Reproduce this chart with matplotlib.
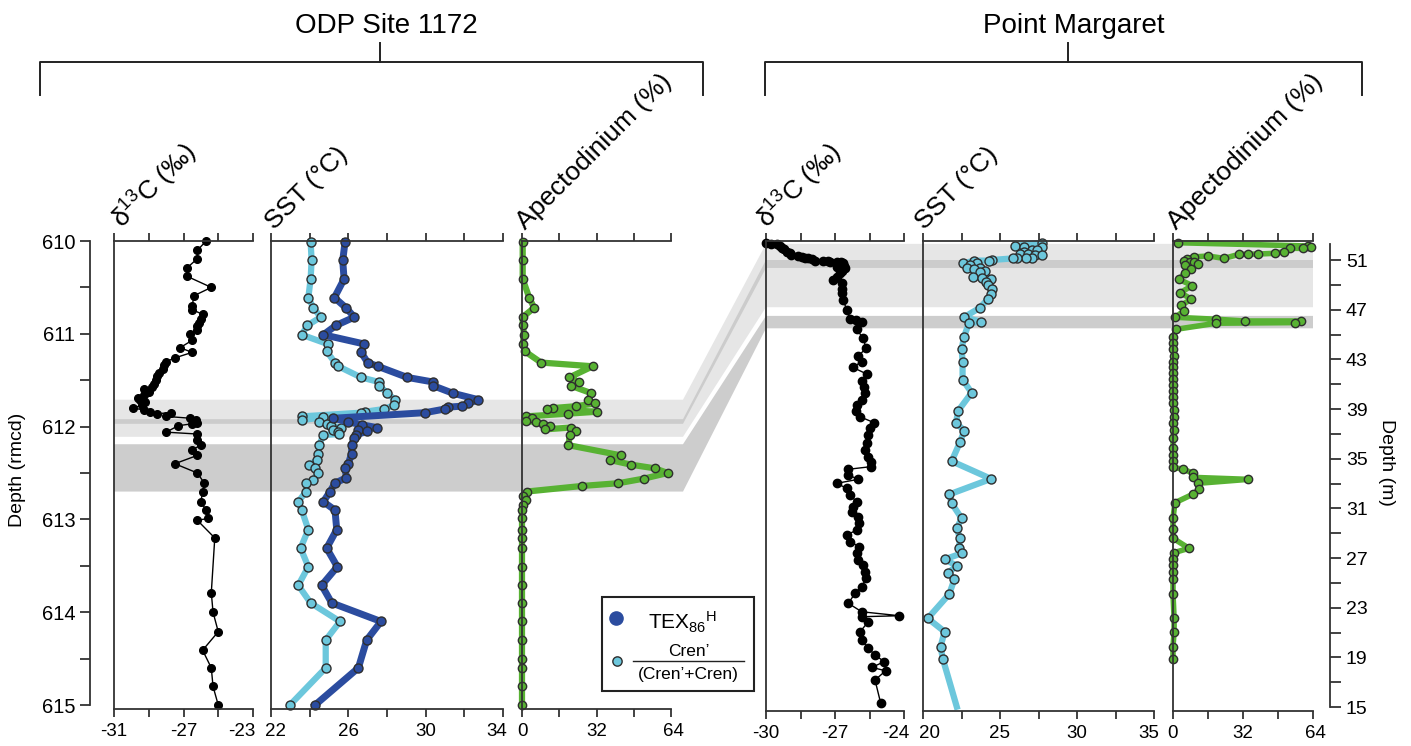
import numpy as np
import matplotlib.pyplot as plt
import matplotlib.transforms as mtransforms
from matplotlib.patches import Polygon, Rectangle

plt.rcParams['font.family'] = ['Liberation Sans', 'DejaVu Sans']
plt.rcParams['mathtext.fontset'] = 'custom'
plt.rcParams['mathtext.rm'] = 'Liberation Sans'
plt.rcParams['mathtext.it'] = 'Liberation Sans:italic'
plt.rcParams['mathtext.bf'] = 'Liberation Sans:bold'

# ---------------- ODP Site 1172 (depth in rmcd) ----------------
odp_d13c_depth = [610.00, 610.10, 610.19, 610.29, 610.38, 610.50, 610.59, 610.70, 610.74, 610.79,
                  610.84, 610.88, 610.92, 610.96, 611.00, 611.07, 611.15, 611.20, 611.26, 611.30,
                  611.34, 611.38, 611.42, 611.46, 611.50, 611.54, 611.57, 611.60, 611.63, 611.66,
                  611.69, 611.71, 611.74, 611.77, 611.80, 611.82, 611.84, 611.86, 611.85, 611.89,
                  611.91, 611.93, 611.96, 611.97, 611.99, 612.06, 612.08, 612.14, 612.20, 612.25,
                  612.31, 612.40, 612.50, 612.61, 612.70, 612.81, 612.90, 612.99, 613.01, 613.20,
                  613.79, 614.00, 614.21, 614.41, 614.60, 614.80, 615.00]
odp_d13c = [-25.7, -26.2, -26.2, -26.8, -26.8, -25.4, -26.4, -26.5, -26.5, -25.9,
            -26.0, -26.1, -26.2, -26.2, -26.6, -26.5, -27.2, -26.5, -27.5, -28.0,
            -28.1, -28.2, -28.4, -28.5, -28.6, -28.7, -28.8, -29.3, -29.0, -29.3,
            -29.6, -29.5, -29.2, -29.4, -29.9, -29.3, -28.9, -28.5, -27.7, -28.0,
            -26.6, -26.3, -26.2, -26.5, -27.3, -28.0, -26.2, -26.2, -26.0, -26.5,
            -26.2, -27.5, -26.2, -25.8, -25.9, -26.0, -25.7, -25.6, -26.2, -25.2,
            -25.4, -25.3, -25.0, -25.9, -25.4, -25.3, -25.0]

odp_tex_depth = [610.01, 610.21, 610.41, 610.61, 610.72, 610.82, 610.91, 611.01, 611.11, 611.20,
                 611.31, 611.35, 611.47, 611.52, 611.56, 611.64, 611.71, 611.75, 611.78, 611.79,
                 611.81, 611.85, 611.91, 611.95, 611.98, 612.01, 612.04, 612.05, 612.09, 612.12,
                 612.20, 612.29, 612.40, 612.45, 612.55, 612.61, 612.70, 612.81, 612.90, 613.11,
                 613.31, 613.51, 613.71, 613.90, 614.10, 614.30, 614.60, 615.00]
odp_tex = [25.83, 25.71, 25.78, 25.28, 25.88, 26.31, 25.36, 24.71, 26.83, 26.66,
           27.00, 27.52, 29.05, 30.40, 30.40, 31.40, 32.73, 32.21, 31.86, 31.17,
           31.00, 29.97, 25.22, 26.00, 26.69, 27.47, 26.50, 26.95, 26.40, 26.30,
           26.17, 26.17, 26.00, 25.83, 25.90, 25.31, 25.05, 24.71, 25.31, 25.40,
           24.88, 25.43, 24.62, 25.14, 27.69, 26.95, 26.52, 24.28]

odp_cren_depth = [610.01, 610.21, 610.41, 610.61, 610.72, 610.82, 610.91, 611.01, 611.11, 611.19,
                  611.31, 611.35, 611.47, 611.52, 611.56, 611.64, 611.71, 611.77, 611.81, 611.84,
                  611.85, 611.89, 611.93, 611.90, 611.95, 611.97, 611.99, 612.01, 612.04, 612.06,
                  612.08, 612.09, 612.20, 612.29, 612.36, 612.41, 612.45, 612.50, 612.57, 612.61,
                  612.70, 612.81, 612.90, 613.11, 613.31, 613.51, 613.71, 613.90, 614.10, 614.30,
                  614.60, 615.00]
odp_cren = [24.05, 24.10, 24.05, 23.93, 24.19, 24.57, 23.88, 23.59, 24.93, 24.88,
            25.31, 25.48, 26.66, 27.60, 27.60, 28.02, 28.41, 28.36, 27.85, 26.86,
            26.66, 23.60, 23.60, 24.67, 24.50, 24.90, 25.10, 25.60, 25.20, 25.45,
            25.50, 24.70, 24.50, 24.45, 24.40, 23.98, 24.30, 24.45, 24.19, 23.81,
            23.81, 23.41, 23.59, 23.93, 23.53, 23.93, 23.41, 24.05, 25.57, 24.83,
            24.83, 22.98]

odp_apec_depth = [610.01, 610.21, 610.41, 610.61, 610.72, 610.82, 610.90, 611.01, 611.11, 611.19,
                  611.31, 611.35, 611.47, 611.52, 611.56, 611.64, 611.71, 611.75, 611.78, 611.80,
                  611.81, 611.84, 611.86, 611.89, 611.91, 611.94, 611.95, 611.97, 611.99, 612.03,
                  612.01, 612.05, 612.09, 612.20, 612.31, 612.36, 612.41, 612.45, 612.50, 612.56,
                  612.61, 612.64, 612.70, 612.75, 612.79, 612.84, 612.90, 612.99, 613.11, 613.20,
                  613.31, 613.51, 613.71, 613.90, 614.10, 614.30, 614.50, 614.60, 614.80, 615.00]
odp_apec = [0.3, 0.3, 0.3, 3.1, 5.2, 0.3, 0.3, 0.9, 0.3, 1.3,
            8.2, 30.4, 20.3, 24.5, 21.0, 29.8, 28.4, 31.5, 23.2, 13.5,
            10.6, 32.1, 19.9, 1.7, 4.4, 1.7, 5.9, 9.0, 11.9, 9.7,
            21.0, 23.4, 20.6, 19.9, 42.5, 37.8, 46.8, 57.1, 62.6, 52.4,
            41.4, 25.6, 2.0, 0.3, 1.7, 0.6, 0.0, 0.0, 0.0, 0.0,
            0.0, 0.0, 0.0, 0.0, 0.0, 0.0, 0.0, 0.0, 0.0, 0.0]

# ---------------- Point Margaret (depth in m) ----------------
pm_d13c_depth = [52.34, 52.30, 52.25, 52.13, 52.00, 51.85, 51.67, 51.55, 51.40, 51.30,
                 51.22, 51.17, 51.13, 51.05, 50.95, 50.95, 50.90, 50.87, 50.87, 50.80,
                 50.73, 50.55, 50.40, 50.33, 50.15, 49.93, 49.65, 49.39, 49.12, 48.70,
                 48.32, 47.78, 46.97, 46.23, 46.20, 46.03, 45.42, 44.69, 43.89, 43.27,
                 42.81, 42.36, 41.82, 41.28, 40.75, 40.27, 39.73, 39.33, 38.87, 38.38,
                 37.90, 37.45, 36.91, 36.24, 35.70, 35.16, 34.76, 34.36, 34.15, 33.70,
                 33.34, 33.02, 32.62, 32.08, 31.54, 31.10, 30.74, 30.33, 29.80, 29.26,
                 28.86, 28.32, 27.92, 27.38, 26.85, 26.44, 25.91, 25.37, 24.70, 24.16,
                 23.36, 22.68, 22.36, 22.28, 21.88, 21.07, 20.40, 19.73, 19.20, 18.66,
                 18.20, 17.93, 17.18, 15.30]
pm_d13c = [-30.0, -29.8, -29.5, -29.4, -29.3, -29.2, -29.1, -28.95, -28.9, -28.6,
           -28.45, -28.3, -28.16, -28.0, -27.87, -27.51, -27.3, -27.22, -26.93, -26.75,
           -26.64, -26.6, -26.93, -26.57, -26.7, -26.78, -26.9, -27.07, -26.71, -26.7,
           -26.71, -26.64, -26.49, -26.35, -26.10, -25.84, -26.06, -25.77, -25.65, -25.99,
           -25.84, -26.23, -25.62, -25.84, -25.75, -25.70, -25.84, -26.06, -26.09, -25.91,
           -25.30, -25.48, -25.55, -25.62, -25.70, -25.55, -25.45, -25.45, -26.42, -26.42,
           -25.99, -26.93, -26.49, -26.35, -26.06, -26.2, -26.28, -25.99, -25.94, -26.06,
           -26.49, -26.35, -25.94, -26.06, -25.99, -25.77, -25.70, -25.65, -25.84, -26.13,
           -26.42, -25.84, -24.20, -25.84, -25.55, -25.91, -25.84, -25.55, -25.26, -24.86,
           -25.40, -24.80, -25.26, -25.01]

pm_cren_depth = [52.39, 52.13, 52.07, 52.02, 51.81, 51.78, 51.62, 51.50, 51.50, 51.43,
                 51.43, 51.20, 51.20, 51.13, 51.13, 51.00, 50.95, 50.95, 50.73, 50.73,
                 50.60, 50.33, 50.33, 50.25, 50.14, 50.06, 49.66, 49.53, 49.45, 49.26,
                 48.99, 48.65, 48.27, 47.84, 47.16, 46.39, 46.03, 45.91, 44.80, 43.85,
                 42.81, 41.36, 40.32, 38.87, 37.90, 37.26, 36.32, 34.80, 33.38, 32.13,
                 31.41, 30.20, 29.40, 28.59, 27.79, 27.38, 26.90, 26.39, 25.83, 25.32,
                 24.11, 22.15, 21.08, 19.87, 18.88, 15.04]
pm_cren = [27.71, 25.97, 27.73, 26.56, 27.06, 27.40, 26.56, 26.30, 26.84, 27.27,
           27.70, 27.10, 26.70, 26.13, 25.83, 24.46, 24.30, 23.31, 22.62, 23.50,
           23.05, 22.83, 23.70, 23.30, 24.00, 23.67, 23.26, 23.80, 24.40, 24.10,
           24.20, 24.50, 24.40, 24.20, 23.70, 22.66, 23.75, 22.98, 22.66, 22.51,
           22.57, 22.57, 23.16, 22.29, 22.14, 22.68, 22.40, 21.86, 24.42, 21.71,
           21.86, 22.51, 22.19, 22.40, 22.34, 22.51, 21.40, 22.19, 21.65, 22.04,
           21.71, 20.31, 21.40, 21.14, 21.29, 22.19]

pm_apec_depth = [52.39, 52.13, 52.02, 51.94, 51.94, 51.67, 51.54, 51.48, 51.46, 51.46,
                 51.13, 51.32, 51.25, 51.05, 50.95, 50.80, 50.80, 50.65, 50.60, 50.25,
                 49.93, 49.45, 48.94, 48.38, 47.84, 47.36, 46.88, 46.39, 46.23, 46.09,
                 46.09, 45.96, 45.91, 45.42, 44.78, 44.29, 43.81, 43.27, 42.81, 42.36,
                 41.88, 41.39, 40.94, 40.48, 40.00, 39.51, 38.92, 38.38, 37.85, 37.31,
                 36.64, 35.84, 35.30, 34.84, 34.31, 34.15, 33.83, 33.50, 33.34, 33.02,
                 32.54, 32.16, 31.46, 30.20, 29.35, 28.60, 27.79, 27.44, 26.92, 26.41,
                 25.85, 25.34, 24.13, 22.15, 21.05, 19.87, 18.88]
pm_apec = [2.4, 61.5, 62.9, 59.3, 53.5, 50.7, 46.6, 39.0, 34.1, 30.2,
           23.3, 16.1, 9.4, 6.2, 4.9, 7.6, 9.4, 11.6, 5.3, 8.4,
           5.3, 2.7, 8.8, 3.4, 8.4, 3.7, 4.9, 0.9, 19.7, 32.9,
           58.6, 55.8, 19.7, 1.4, 0.0, 0.0, 0.0, 0.5, 0.0, 0.0,
           0.0, 0.0, 0.0, 0.0, 0.0, 0.0, 0.5, 0.5, 0.0, 0.3,
           0.0, 0.0, 0.0, 0.0, 0.0, 4.7, 9.3, 9.3, 34.4, 11.3,
           12.0, 9.3, 0.9, 0.0, 0.0, 0.0, 7.3, 0.5, 0.0, 0.0,
           0.0, 0.0, 0.0, 0.5, 0.5, 0.0, 0.0]

# grey intervals: (ODP depth range, Point Margaret depth range)
band_light = ((611.71, 612.11), (47.2, 52.3))
band_strip = ((611.92, 611.97), (50.36, 51.0))
band_dark = ((612.19, 612.70), (45.5, 46.5))

TEX = '#2b4c9f'
CREN = '#6cc7dc'
GREEN = '#58b233'
EDGE = '#2e2e2e'
AX = '#333333'

W, H = 1411, 746
fig = plt.figure(figsize=(W / 100, H / 100), dpi=100)
over = fig.add_axes([0, 0, 1, 1], zorder=0)
over.set_xlim(0, W)
over.set_ylim(H, 0)
over.axis('off')


def rect(x0, x1, y0, y1):
    return [x0 / W, 1 - y1 / H, (x1 - x0) / W, (y1 - y0) / H]


def panel(x0, x1, y0, y1, xlim, ylim, major, minor, nudge=None):
    ax = fig.add_axes(rect(x0, x1, y0, y1), zorder=2)
    ax.patch.set_visible(False)
    ax.set_xlim(*xlim)
    ax.set_ylim(*ylim)
    ax.set_xticks(major)
    ax.set_xticklabels([f'{v:g}' for v in major])
    ax.set_xticks(minor, minor=True)
    ax.set_yticks([])
    ax.spines['right'].set_visible(False)
    for s in ('top', 'bottom', 'left'):
        ax.spines[s].set_linewidth(1.3)
        ax.spines[s].set_color(AX)
    ax.tick_params(axis='x', which='both', top=True, bottom=True, direction='out',
                   length=6, width=1.3, color=AX, labelsize=13.5, pad=4)
    # keep neighbouring end labels apart (pixel offsets)
    for idx, dx in (nudge or {}).items():
        lab = ax.get_xticklabels()[idx]
        lab.set_transform(lab.get_transform() +
                          mtransforms.ScaledTranslation(dx / 100, 0, fig.dpi_scale_trans))
    return ax


ODP_Y = (615.043, 610.0)
PM_Y = (14.69, 52.53)

ax1 = panel(114, 253, 241, 709, (-31, -23), ODP_Y, [-31, -27, -23], [-29, -25], {2: -11})
ax2 = panel(271, 503, 241, 709, (22, 34), ODP_Y, [22, 26, 30, 34], [24, 28, 32], {0: 5, 3: -6})
ax3 = panel(522, 671, 241, 709, (0, 64), ODP_Y, [0, 32, 64], [16, 48], {2: 2})
ax4 = panel(766, 904, 241, 711, (-30, -24), PM_Y, [-30, -27, -24], [-28.5, -25.5], {2: -8})
ax5 = panel(923, 1154, 241, 711, (20, 35), PM_Y, [20, 25, 30, 35], [22.5, 27.5, 32.5], {0: 6, 3: -5})
ax6 = panel(1173, 1313, 241, 711, (0, 64), PM_Y, [0, 32, 64], [16, 48], {2: 2})

# depth scales
axd = fig.add_axes(rect(90, 91, 241, 709), zorder=2)
axd.patch.set_visible(False)
axd.set_ylim(*ODP_Y)
for s in ('top', 'bottom', 'right'):
    axd.spines[s].set_visible(False)
axd.spines['left'].set_bounds(610, 615)
axd.spines['left'].set_linewidth(1.3)
axd.spines['left'].set_color(AX)
axd.set_xticks([])
axd.set_yticks([610, 611, 612, 613, 614, 615])
axd.set_yticks(np.arange(610.5, 615, 1), minor=True)
axd.tick_params(axis='y', which='both', direction='out', length=7, width=1.3, color=AX, labelsize=14.5)

axp = fig.add_axes(rect(1329, 1330, 241, 711), zorder=2)
axp.patch.set_visible(False)
axp.set_ylim(*PM_Y)
for s in ('top', 'bottom', 'left'):
    axp.spines[s].set_visible(False)
axp.spines['right'].set_bounds(15, 52.3)
axp.spines['right'].set_linewidth(1.3)
axp.spines['right'].set_color(AX)
axp.set_xticks([])
axp.yaxis.tick_right()
axp.set_yticks(np.arange(15, 52, 4))
axp.set_yticks(np.arange(17, 52, 4), minor=True)
axp.tick_params(axis='y', which='both', direction='out', length=8, width=1.3, color=AX, labelsize=14)

over.text(18, 470, 'Depth (rmcd)', rotation=90, ha='center', va='center', fontsize=14)
over.text(1387, 462, 'Depth (m)', rotation=270, ha='center', va='center', fontsize=14)

# series
kw = dict(clip_on=False)
ax1.plot(odp_d13c, odp_d13c_depth, '-o', color='black', lw=1.0, ms=5.5, mec='black', **kw)
ax2.plot(odp_cren, odp_cren_depth, '-o', color=CREN, lw=4.5, ms=6.5, mfc=CREN, mec=EDGE, mew=1.0, **kw)
ax2.plot(odp_tex, odp_tex_depth, '-o', color=TEX, lw=5, ms=6.5, mfc=TEX, mec=EDGE, mew=1.0, **kw)
ax3.plot(odp_apec, odp_apec_depth, '-o', color=GREEN, lw=4.5, ms=6, mfc=GREEN, mec=EDGE, mew=1.0, **kw)

ax4.plot(pm_d13c, pm_d13c_depth, '-o', color='black', lw=1.0, ms=6, mec='black', **kw)
ax5.plot(pm_cren, pm_cren_depth, '-', color=CREN, lw=4.5, **kw)
ax5.plot(pm_cren[:-1], pm_cren_depth[:-1], 'o', ms=6.5, mfc=CREN, mec=EDGE, mew=1.0, **kw)
ax6.plot(pm_apec, pm_apec_depth, '-o', color=GREEN, lw=4, ms=6, mfc=GREEN, mec=EDGE, mew=1.0, **kw)


# grey bands linking both sections
def fig_y(ax, d):
    return H - ax.transData.transform((ax.get_xlim()[0], d))[1]


def band(pair, color, z):
    (o1, o2), (p1, p2) = pair
    pts = [(114, fig_y(ax1, o1)), (683, fig_y(ax1, o1)), (766, fig_y(ax4, p2)), (1313, fig_y(ax4, p2)),
           (1313, fig_y(ax4, p1)), (766, fig_y(ax4, p1)), (683, fig_y(ax1, o2)), (114, fig_y(ax1, o2))]
    over.add_patch(Polygon(pts, closed=True, fc=color, ec='none', zorder=z))


band(band_light, '#e6e6e6', 1)
band(band_strip, '#cccccc', 2)
band(band_dark, '#cdcdcd', 2)

# column headings
heads = [(123, r'δ$^{13}$C (‰)'), (274, 'SST (°C)'), (525, 'Apectodinium (%)'),
         (768, r'δ$^{13}$C (‰)'), (924, 'SST (°C)'), (1176, 'Apectodinium (%)')]
for x, s in heads:
    over.text(x, 230, s, rotation=45, rotation_mode='anchor', ha='left', va='baseline', fontsize=19)

# site brackets
for (xa, xb, xc, name) in [(40, 703, 380, 'ODP Site 1172'), (765, 1362, 1068, 'Point Margaret')]:
    over.plot([xa, xa, xb, xb], [95, 62, 62, 95], color='#222222', lw=1.4)
    over.plot([xc, xc], [62, 43], color='#222222', lw=1.4)
    over.text(xc + 6, 26, name, ha='center', va='center', fontsize=20)

# legend
over.add_patch(Rectangle((602, 597), 152, 94, fc='white', ec='#222222', lw=1.5, zorder=5))
over.plot([616], [618], 'o', ms=9.5, color=TEX, zorder=6)
over.text(683, 622, r'TEX$_{86}$$^{\mathrm{H}}$', ha='center', va='center', fontsize=15, zorder=6)
over.plot([617], [661], 'o', ms=6.7, mfc=CREN, mec=EDGE, mew=1.0, zorder=6)
over.text(689, 651, 'Cren’', ha='center', va='center', fontsize=12.5, zorder=6)
over.plot([633, 744], [661, 661], color='#222222', lw=1.0, zorder=6)
over.text(688, 674, '(Cren’+Cren)', ha='center', va='center', fontsize=12.5, zorder=6)

fig.savefig('out.png', dpi=100)
